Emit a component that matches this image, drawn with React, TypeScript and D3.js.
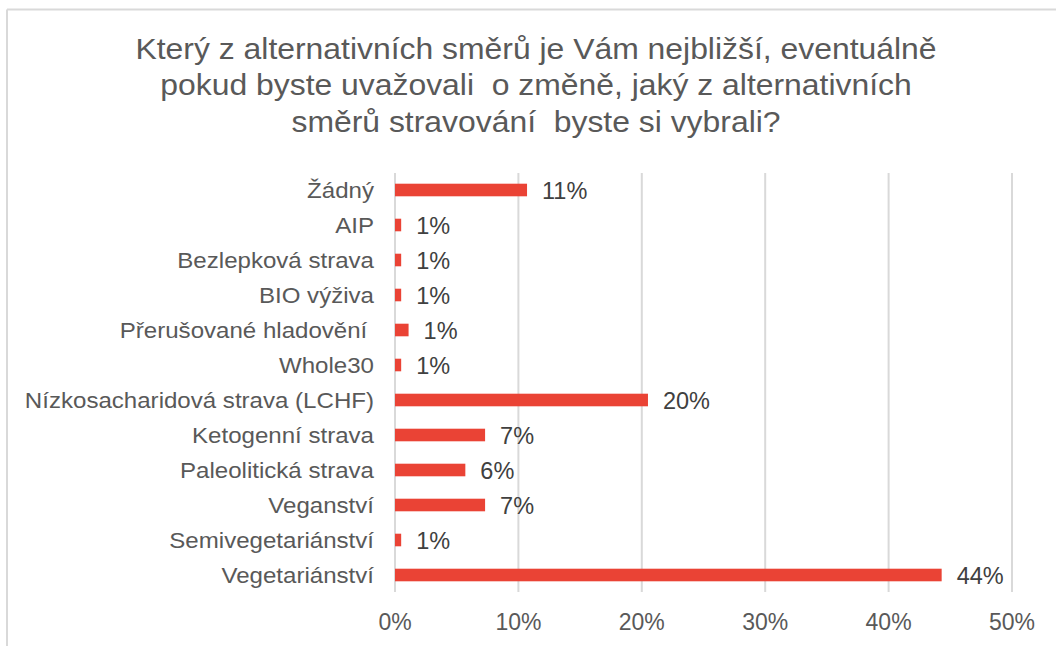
import React from "react";
import * as d3 from "d3";

const categories = [
  "Žádný",
  "AIP",
  "Bezlepková strava",
  "BIO výživa",
  "Přerušované hladovění ",
  "Whole30",
  "Nízkosacharidová strava (LCHF)",
  "Ketogenní strava",
  "Paleolitická strava",
  "Veganství",
  "Semivegetariánství",
  "Vegetariánství",
];
const values = [10.7, 0.5, 0.5, 0.5, 1.1, 0.5, 20.5, 7.3, 5.7, 7.3, 0.5, 44.3];
const valueLabels = ["11%", "1%", "1%", "1%", "1%", "1%", "20%", "7%", "6%", "7%", "1%", "44%"];
const ticks = [0, 10, 20, 30, 40, 50];
const titleLines = [
  "Který z alternativních směrů je Vám nejbližší, eventuálně",
  "pokud byste uvažovali  o změně, jaký z alternativních",
  "směrů stravování  byste si vybrali?",
];

export default function App() {
  const W = 1056;
  const H = 646;
  const x = d3.scaleLinear().domain([0, 50]).range([395, 1012]);
  const y = d3.scaleBand<string>().domain(categories).range([172.5, 592.5]).paddingInner(0.64).paddingOuter(0.32);
  const font = "'Liberation Sans', Arial, sans-serif";
  const cy = (c: string) => (y(c) as number) + y.bandwidth() / 2;
  return (
    <svg width={W} height={H} style={{ position: "absolute", left: 0, top: 0 }}>
      <rect x={0} y={0} width={W} height={H} fill="#fff" />
      <line x1={7} x2={W} y1={9.5} y2={9.5} stroke="#d9d9d9" strokeWidth={2} />
      <line x1={7} x2={7} y1={9.5} y2={H} stroke="#d9d9d9" strokeWidth={2} />
      {titleLines.map((t, i) => (
        <g key={i} transform={`translate(536,${59.3 + i * 36.1}) scale(1.1,1)`}>
          <text x={0} y={0} textAnchor="middle" fontFamily={font} fontSize={29} fill="#595959" style={{ whiteSpace: "pre" }}>
            {t}
          </text>
        </g>
      ))}
      {ticks.map((t) => (
        <line key={t} x1={x(t)} x2={x(t)} y1={173} y2={592} stroke="#d9d9d9" strokeWidth={2} />
      ))}
      {ticks.map((t) => (
        <text key={"t" + t} x={x(t)} y={630} textAnchor="middle" fontFamily={font} fontSize={23} fill="#595959">
          {t + "%"}
        </text>
      ))}
      {categories.map((c, i) => (
        <g key={c}>
          <rect x={x(0)} y={y(c)} width={x(values[i]) - x(0)} height={y.bandwidth()} fill="#ea4335" />
          <g transform={`translate(374,${cy(c)}) scale(1.07,1)`}>
            <text x={0} y={0} dy="0.36em" textAnchor="end" fontFamily={font} fontSize={22.5} fill="#595959" style={{ whiteSpace: "pre" }}>
              {c}
            </text>
          </g>
          <text x={x(values[i]) + 15} y={cy(c)} dy="0.38em" fontFamily={font} fontSize={23.5} fill="#404040">
            {valueLabels[i]}
          </text>
        </g>
      ))}
    </svg>
  );
}
